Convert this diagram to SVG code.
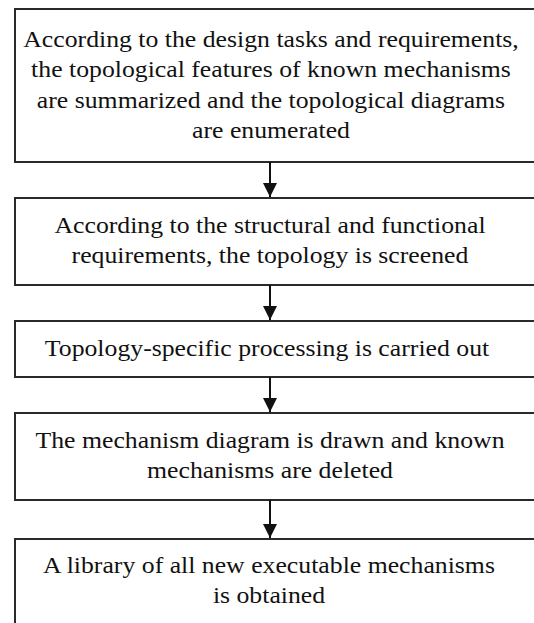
<svg xmlns="http://www.w3.org/2000/svg" width="534" height="623" viewBox="0 0 534 623">
  <style>
    .box { fill: #ffffff; stroke: #2a2a2a; stroke-width: 2; }
    .lbl { font-family: 'Liberation Serif', 'Times New Roman', 'DejaVu Serif', serif; font-size: 23px; fill: #111111; text-anchor: middle; }
    .conn { stroke: #111111; stroke-width: 2; fill: none; }
  </style>
  <defs>
    <marker id="arr" markerWidth="7" markerHeight="7" refX="7" refY="3.5" orient="auto" markerUnits="strokeWidth">
      <path d="M0,0 L7,3.5 L0,7 Z" fill="#111111"/>
    </marker>
  </defs>
  <rect width="534" height="623" fill="#ffffff"/>
  <g id="n1">
    <rect class="box" x="15" y="9" width="525" height="153"/>
    <g transform="translate(271,0) scale(1.12,1)">
      <text class="lbl" x="0" y="47">According to the design tasks and requirements,</text>
      <text class="lbl" x="0" y="77.5">the topological features of known mechanisms</text>
      <text class="lbl" x="0" y="108">are summarized and the topological diagrams</text>
      <text class="lbl" x="0" y="138.5">are enumerated</text>
    </g>
  </g>
  <g id="n2">
    <rect class="box" x="15" y="198" width="525" height="87"/>
    <g transform="translate(270,0) scale(1.12,1)">
      <text class="lbl" x="0" y="233">According to the structural and functional</text>
      <text class="lbl" x="0" y="263">requirements, the topology is screened</text>
    </g>
  </g>
  <g id="n3">
    <rect class="box" x="15" y="321" width="525" height="56"/>
    <g transform="translate(267,0) scale(1.12,1)">
      <text class="lbl" x="0" y="356">Topology-specific processing is carried out</text>
    </g>
  </g>
  <g id="n4">
    <rect class="box" x="15" y="413" width="525" height="87"/>
    <g transform="translate(270,0) scale(1.12,1)">
      <text class="lbl" x="0" y="448">The mechanism diagram is drawn and known</text>
      <text class="lbl" x="0" y="478">mechanisms are deleted</text>
    </g>
  </g>
  <g id="n5">
    <rect class="box" x="15" y="539" width="525" height="100"/>
    <g transform="translate(269,0) scale(1.12,1)">
      <text class="lbl" x="0" y="573">A library of all new executable mechanisms</text>
      <text class="lbl" x="0" y="603">is obtained</text>
    </g>
  </g>
  <g id="connectors">
    <line class="conn" x1="270" y1="162" x2="270" y2="197" marker-end="url(#arr)"/>
    <line class="conn" x1="270" y1="285" x2="270" y2="320" marker-end="url(#arr)"/>
    <line class="conn" x1="270" y1="377" x2="270" y2="412" marker-end="url(#arr)"/>
    <line class="conn" x1="270" y1="500" x2="270" y2="538" marker-end="url(#arr)"/>
  </g>
</svg>
